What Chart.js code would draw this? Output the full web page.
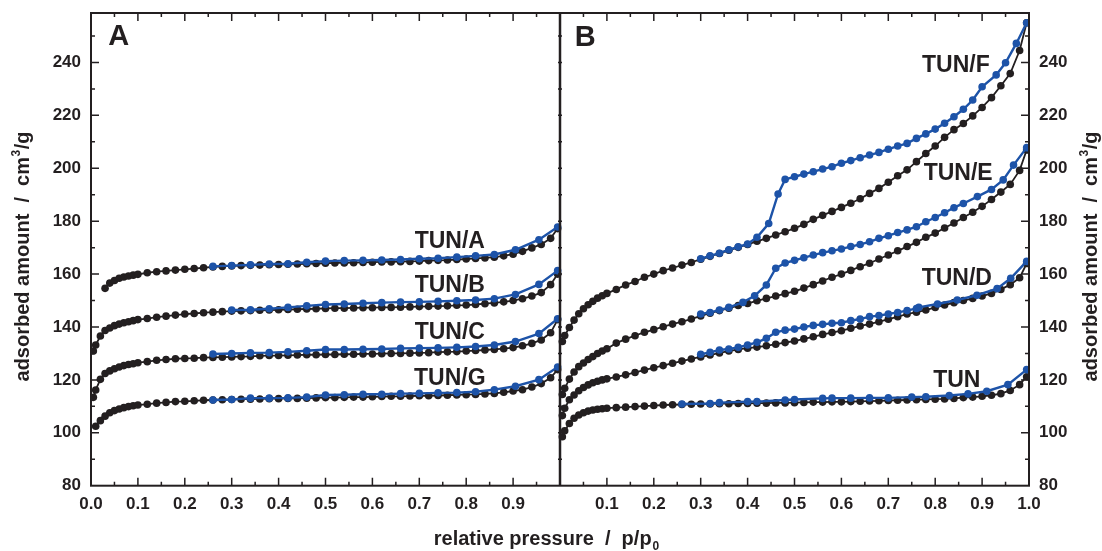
<!DOCTYPE html>
<html>
<head>
<meta charset="utf-8">
<script src="https://cdn.jsdelivr.net/npm/chart.js@4.4.1/dist/chart.umd.min.js"></script>
<style>
  body { margin: 0; background: #fff; }
  #wrap { width: 1102px; height: 551px; }
</style>
</head>
<body>
<div id="wrap"><canvas id="iso" width="1102" height="551"></canvas></div>
<script>
// relative pressure of the adsorption branch (shared by all black curves)
const pAds = [0.005, 0.01, 0.02, 0.03, 0.04, 0.05, 0.06, 0.07, 0.08, 0.09,
  0.10, 0.12, 0.14, 0.16, 0.18, 0.20, 0.22, 0.24, 0.26, 0.28,
  0.30, 0.32, 0.34, 0.36, 0.38, 0.40, 0.42, 0.44, 0.46, 0.48,
  0.50, 0.52, 0.54, 0.56, 0.58, 0.60, 0.62, 0.64, 0.66, 0.68,
  0.70, 0.72, 0.74, 0.76, 0.78, 0.80, 0.82, 0.84, 0.86, 0.88,
  0.90, 0.92, 0.94, 0.96, 0.98, 0.995];

// panel A - adsorption
const adsTunA = [null, null, null, 154.6, 156.6, 157.6, 158.4, 158.9, 159.3, 159.6,
  159.9, 160.5, 160.9, 161.2, 161.5, 161.8, 162.1, 162.4, 162.7, 162.9,
  163.1, 163.2, 163.3, 163.4, 163.5, 163.6, 163.7, 163.8, 163.9, 164.0,
  164.1, 164.2, 164.2, 164.3, 164.4, 164.5, 164.6, 164.6, 164.7, 164.8,
  164.9, 165.1, 165.2, 165.3, 165.5, 165.7, 165.9, 166.1, 166.4, 166.9,
  167.5, 168.6, 169.9, 171.2, 173.5, 177.2];
const adsTunB = [130.9, 133.2, 136.6, 138.7, 139.6, 140.5, 141.1, 141.6, 142.0, 142.4,
  142.8, 143.2, 143.7, 144.1, 144.5, 144.9, 145.1, 145.4, 145.6, 145.8,
  146.0, 146.1, 146.2, 146.3, 146.4, 146.5, 146.6, 146.7, 146.8, 146.9,
  147.0, 147.1, 147.1, 147.2, 147.3, 147.3, 147.4, 147.4, 147.5, 147.6,
  147.7, 147.8, 147.9, 148.0, 148.2, 148.3, 148.5, 148.8, 149.1, 149.5,
  150.0, 150.7, 151.7, 153.0, 156.0, 160.0];
const adsTunC = [113.4, 116.2, 120.2, 122.4, 123.4, 124.2, 124.9, 125.4, 125.8, 126.1,
  126.5, 126.9, 127.4, 127.7, 128.0, 128.1, 128.2, 128.4, 128.5, 128.6,
  128.7, 128.8, 128.9, 129.1, 129.2, 129.2, 129.3, 129.4, 129.5, 129.5,
  129.6, 129.6, 129.7, 129.7, 129.8, 129.8, 129.9, 130.0, 130.0, 130.1,
  130.2, 130.3, 130.5, 130.6, 130.7, 130.9, 131.1, 131.3, 131.5, 131.8,
  132.2, 132.9, 133.8, 135.1, 137.8, 142.8];
const adsTunG = [null, 102.5, 104.6, 106.3, 107.6, 108.4, 109.0, 109.5, 109.9, 110.2,
  110.5, 110.8, 111.2, 111.5, 111.8, 111.9, 112.1, 112.3, 112.4, 112.5,
  112.6, 112.7, 112.7, 112.8, 112.9, 112.9, 113.0, 113.0, 113.1, 113.2,
  113.3, 113.3, 113.4, 113.5, 113.5, 113.6, 113.7, 113.8, 113.8, 113.9,
  114.0, 114.0, 114.1, 114.2, 114.3, 114.4, 114.5, 114.7, 114.9, 115.3,
  115.8, 116.3, 117.3, 118.6, 120.8, 123.9];

// panel A - desorption
const pDesA = [0.26, 0.30, 0.34, 0.38, 0.42, 0.46, 0.50, 0.54, 0.58, 0.62,
  0.66, 0.70, 0.74, 0.78, 0.82, 0.86, 0.905, 0.955, 0.995];
const desTunA = [162.9, 163.2, 163.5, 163.8, 163.9, 164.5, 164.9, 165.1, 165.2, 165.3,
  165.5, 165.8, 166.0, 166.4, 166.9, 167.4, 169.2, 173.0, 177.8];
const desTunB = [null, 146.4, 146.5, 146.9, 147.4, 148.0, 148.5, 148.7, 149.0, 149.2,
  149.4, 149.5, 149.7, 149.9, 150.2, 150.7, 152.3, 156.1, 161.3];
const desTunC = [129.8, 130.0, 130.2, 130.3, 130.6, 131.0, 131.5, 131.5, 131.6, 131.7,
  131.9, 132.0, 132.1, 132.3, 132.6, 133.2, 134.5, 137.5, 143.1];
const desTunG = [112.4, 112.6, 113.1, 113.1, 113.2, 113.5, 114.3, 114.4, 114.6, 114.6,
  114.8, 114.9, 115.1, 115.2, 115.5, 116.3, 117.6, 120.1, 124.9];

// panel B - adsorption
const adsTun = [98.5, 100.8, 103.5, 105.5, 106.7, 107.6, 108.2, 108.6, 108.9, 109.1,
  109.3, 109.5, 109.7, 109.9, 110.1, 110.3, 110.5, 110.6, 110.7, 110.8,
  110.9, 110.9, 111.0, 111.0, 111.1, 111.1, 111.2, 111.2, 111.3, 111.3,
  111.4, 111.5, 111.6, 111.6, 111.7, 111.7, 111.8, 111.9, 112.0, 112.1,
  112.2, 112.3, 112.4, 112.5, 112.6, 112.7, 112.8, 113.0, 113.3, 113.5,
  113.8, 114.2, 114.8, 116.0, 118.2, 121.2];
const adsTunD = [106.5, 109.3, 112.5, 114.3, 115.9, 117.1, 118.1, 118.9, 119.5, 120.0,
  120.4, 121.1, 121.9, 122.8, 123.7, 124.6, 125.4, 126.3, 127.1, 127.9,
  128.7, 129.4, 130.2, 130.9, 131.5, 132.0, 132.4, 132.9, 133.5, 134.1,
  134.7, 135.5, 136.3, 137.2, 137.9, 138.6, 139.5, 140.4, 141.1, 142.0,
  142.9, 143.9, 144.9, 145.6, 146.4, 147.4, 148.3, 149.2, 150.0, 150.8,
  151.7, 152.7, 154.2, 156.0, 158.6, 164.0];
const adsTunE = [114.5, 116.8, 120.3, 123.0, 125.0, 126.4, 127.7, 128.8, 130.0, 130.9,
  131.8, 133.9, 135.4, 136.7, 138.0, 139.0, 140.1, 141.1, 142.0, 143.0,
  144.2, 145.2, 146.2, 147.1, 148.1, 148.9, 149.9, 150.8, 151.7, 152.6,
  153.5, 154.7, 156.0, 157.4, 158.8, 160.0, 161.4, 162.8, 164.1, 165.7,
  167.2, 168.8, 170.4, 172.0, 173.9, 175.5, 177.4, 179.3, 181.4, 183.4,
  185.6, 188.2, 191.0, 193.9, 199.2, 206.9];
const adsTunF = [134.5, 136.8, 139.8, 142.6, 145.0, 146.9, 148.4, 149.7, 150.9, 151.8,
  152.7, 154.2, 155.9, 157.2, 158.8, 160.0, 161.3, 162.3, 163.4, 164.4,
  165.6, 166.7, 167.8, 169.0, 170.1, 171.2, 172.4, 173.5, 174.8, 176.0,
  177.3, 178.8, 180.7, 182.2, 183.7, 185.2, 186.8, 188.5, 190.5, 192.4,
  194.7, 197.2, 199.4, 202.5, 205.6, 208.4, 211.7, 214.6, 216.9, 219.8,
  223.0, 226.7, 231.2, 235.8, 244.5, 255.0];

// panel B - desorption
const pDesTun = [0.26, 0.32, 0.34, 0.40, 0.42, 0.48, 0.50, 0.56, 0.58, 0.62,
  0.66, 0.70, 0.75, 0.78, 0.83, 0.87, 0.91, 0.955, 0.995];
const desTun = [110.9, 111.1, 111.4, 111.8, 111.8, 112.4, 112.6, 113.0, 113.1, 113.1,
  113.2, 113.2, 113.5, 113.6, 114.1, 114.7, 115.7, 118.2, 123.9];
const pDesD = [0.30, 0.32, 0.34, 0.36, 0.38, 0.40, 0.42, 0.44, 0.46, 0.48,
  0.50, 0.52, 0.54, 0.56, 0.58, 0.60, 0.62, 0.64, 0.66, 0.68,
  0.70, 0.72, 0.74, 0.76, 0.765, 0.805, 0.847, 0.889, 0.932, 0.961, 0.995];
const desTunD = [129.7, 130.4, 131.3, 131.7, 132.3, 133.2, 134.2, 135.7, 138.0, 138.8,
  139.2, 140.0, 140.6, 141.0, 141.4, 141.6, 142.4, 143.0, 143.9, 144.3,
  144.9, 145.5, 146.2, 147.0, 147.4, 148.7, 150.2, 152.0, 154.5, 158.4, 164.8];
const pDesE = [0.30, 0.32, 0.34, 0.36, 0.39, 0.415, 0.44, 0.46, 0.48, 0.50,
  0.52, 0.54, 0.56, 0.58, 0.60, 0.62, 0.64, 0.66, 0.68, 0.70,
  0.72, 0.74, 0.76, 0.78, 0.80, 0.82, 0.84, 0.86, 0.89, 0.92,
  0.945, 0.967, 0.995];
const desTunE = [144.9, 145.5, 146.4, 147.4, 149.3, 151.8, 155.9, 162.2, 164.2, 165.2,
  166.2, 167.2, 168.1, 168.8, 169.5, 170.4, 171.2, 172.2, 173.5, 174.5,
  175.7, 176.7, 177.9, 179.8, 181.4, 183.2, 185.1, 186.7, 189.3, 192.0,
  195.6, 201.2, 207.8];
const pDesF = [0.30, 0.32, 0.34, 0.36, 0.38, 0.40, 0.42, 0.445, 0.465, 0.48,
  0.50, 0.52, 0.54, 0.56, 0.58, 0.60, 0.62, 0.64, 0.66, 0.68,
  0.70, 0.72, 0.74, 0.76, 0.78, 0.80, 0.82, 0.84, 0.86, 0.88,
  0.90, 0.93, 0.95, 0.973, 0.995];
const desTunF = [165.8, 166.9, 167.9, 169.2, 170.3, 171.4, 173.9, 179.1, 190.3, 195.8,
  196.8, 197.8, 198.7, 199.7, 200.6, 201.9, 202.9, 204.0, 205.0, 206.0,
  207.2, 208.4, 209.4, 211.3, 213.0, 214.8, 217.0, 219.5, 222.3, 225.8,
  230.8, 235.3, 239.9, 247.2, 255.0];

// y ticks
const yTicks = [80, 100, 120, 140, 160, 180, 200, 220, 240];

// curve names: [text, panel, p, value]
const curveNames = [
  ['TUN/A', 'A', 0.765, 172.1], ['TUN/B', 'A', 0.765, 155.5],
  ['TUN/C', 'A', 0.765, 137.7], ['TUN/G', 'A', 0.765, 120.3],
  ['TUN/F', 'B', 0.844, 238.7], ['TUN/E', 'B', 0.849, 197.8],
  ['TUN/D', 'B', 0.846, 158.1], ['TUN', 'B', 0.846, 119.6]
];
const panelNames = [['A', 'A', 0.059, 249.6], ['B', 'B', 0.054, 249.3]];

const BLACK = '#231f20';
const BLUE = '#1d53a8';
const FONT = '"Liberation Sans", Arial, sans-serif';
const shift = { A: 0, B: 1 };

function points(px, vals, panel) {
  const out = [];
  px.forEach((p, i) => {
    if (vals[i] != null) out.push({ x: p + shift[panel], y: vals[i] });
  });
  return out;
}

function series(px, vals, panel, color) {
  const blue = color === BLUE;
  return {
    data: points(px, vals, panel),
    borderColor: color,
    backgroundColor: color,
    borderWidth: blue ? 2.4 : 1.8,
    pointRadius: 3.8,
    pointBorderWidth: 0,
    pointBackgroundColor: color,
    tension: 0,
    order: blue ? 0 : 1
  };
}

const datasets = [
  series(pAds, adsTunA, 'A', BLACK), series(pAds, adsTunB, 'A', BLACK),
  series(pAds, adsTunC, 'A', BLACK), series(pAds, adsTunG, 'A', BLACK),
  series(pDesA, desTunA, 'A', BLUE), series(pDesA, desTunB, 'A', BLUE),
  series(pDesA, desTunC, 'A', BLUE), series(pDesA, desTunG, 'A', BLUE),
  series(pAds, adsTun, 'B', BLACK), series(pAds, adsTunD, 'B', BLACK),
  series(pAds, adsTunE, 'B', BLACK), series(pAds, adsTunF, 'B', BLACK),
  series(pDesTun, desTun, 'B', BLUE), series(pDesD, desTunD, 'B', BLUE),
  series(pDesE, desTunE, 'B', BLUE), series(pDesF, desTunF, 'B', BLUE)
];

// frame, inward ticks, divider, labels and axis titles
const framePlugin = {
  id: 'frame',
  afterDraw(chart) {
    const ctx = chart.ctx;
    const a = chart.chartArea;
    const xs = chart.scales.x;
    const ys = chart.scales.y;
    ctx.save();
    ctx.strokeStyle = BLACK;
    ctx.lineWidth = 2;
    ctx.strokeRect(a.left, a.top, a.right - a.left, a.bottom - a.top);

    const mid = xs.getPixelForValue(1);
    ctx.lineWidth = 2.5;
    ctx.beginPath();
    ctx.moveTo(mid, a.top);
    ctx.lineTo(mid, a.bottom);
    ctx.stroke();

    ctx.lineWidth = 1.5;
    ctx.beginPath();
    for (let i = 1; i < 40; i++) {
      if (i === 20) continue;
      const x = xs.getPixelForValue(i * 0.05);
      const len = i % 2 === 0 ? 8 : 4;
      ctx.moveTo(x, a.bottom);
      ctx.lineTo(x, a.bottom - len);
      ctx.moveTo(x, a.top);
      ctx.lineTo(x, a.top + len);
    }
    for (let v = 90; v < 260; v += 10) {
      const y = ys.getPixelForValue(v);
      const len = v % 20 === 0 ? 8 : 4;
      ctx.moveTo(a.left, y);
      ctx.lineTo(a.left + len, y);
      ctx.moveTo(a.right, y);
      ctx.lineTo(a.right - len, y);
      ctx.moveTo(mid - 2, y);
      ctx.lineTo(mid + 2, y);
    }
    ctx.stroke();

    ctx.fillStyle = BLACK;
    ctx.textAlign = 'center';
    ctx.textBaseline = 'middle';
    ctx.font = 'bold 23px ' + FONT;
    curveNames.forEach(([t, panel, p, v]) => {
      ctx.fillText(t, xs.getPixelForValue(p + shift[panel]), ys.getPixelForValue(v));
    });
    ctx.font = 'bold 29px ' + FONT;
    panelNames.forEach(([t, panel, p, v]) => {
      ctx.fillText(t, xs.getPixelForValue(p + shift[panel]), ys.getPixelForValue(v));
    });

    // x title with subscript
    ctx.textAlign = 'left';
    ctx.textBaseline = 'alphabetic';
    const main = 'relative pressure  /  p/p';
    ctx.font = 'bold 20px ' + FONT;
    const w1 = ctx.measureText(main).width;
    ctx.font = 'bold 12px ' + FONT;
    const w2 = ctx.measureText('0').width;
    const x0 = 546 - (w1 + w2) / 2;
    ctx.font = 'bold 20px ' + FONT;
    ctx.fillText(main, x0, 545);
    ctx.font = 'bold 12px ' + FONT;
    ctx.fillText('0', x0 + w1 + 1, 550);

    // y titles with superscript
    const yTitle = (cx, cy) => {
      ctx.save();
      ctx.translate(cx, cy);
      ctx.rotate(-Math.PI / 2);
      ctx.font = 'bold 20px ' + FONT;
      const t1 = 'adsorbed amount  /  cm';
      const t3 = '/g';
      const a1 = ctx.measureText(t1).width;
      const a3 = ctx.measureText(t3).width;
      ctx.font = 'bold 12px ' + FONT;
      const a2 = ctx.measureText('3').width;
      const s = -(a1 + a2 + a3) / 2;
      ctx.font = 'bold 20px ' + FONT;
      ctx.fillText(t1, s, 7);
      ctx.fillText(t3, s + a1 + a2 + 1, 7);
      ctx.font = 'bold 12px ' + FONT;
      ctx.fillText('3', s + a1 + 0.5, -2);
      ctx.restore();
    };
    yTitle(22, 257);
    yTitle(1090, 257);
    ctx.restore();
  }
};

const yScale = (position, width) => ({
  type: 'linear',
  position: position,
  min: 80,
  max: 258.7,
  afterFit: s => { s.width = width; s.paddingTop = 0; s.paddingBottom = 0; },
  afterBuildTicks: s => { s.ticks = yTicks.map(v => ({ value: v })); },
  grid: { display: false, drawTicks: false },
  border: { display: false },
  ticks: {
    padding: 10,
    color: BLACK,
    font: { family: FONT, size: 17, weight: 'bold' }
  }
});

new Chart(document.getElementById('iso'), {
  type: 'line',
  data: { datasets: datasets },
  options: {
    responsive: false,
    animation: false,
    layout: { padding: { top: 13, left: 0, right: 0, bottom: 0 } },
    plugins: { legend: { display: false }, tooltip: { enabled: false } },
    scales: {
      x: {
        type: 'linear',
        min: 0,
        max: 2,
        afterFit: s => { s.height = 65.3; s.paddingLeft = 0; s.paddingRight = 0; },
        grid: { display: false, drawTicks: false },
        border: { display: false },
        ticks: {
          stepSize: 0.1,
          autoSkip: false,
          maxRotation: 0,
          padding: 8,
          color: BLACK,
          font: { family: FONT, size: 17, weight: 'bold' },
          callback: v => {
            if (Math.abs(v - 1) < 1e-6) return '';
            return (v < 1 ? v : v - 1).toFixed(1);
          }
        }
      },
      y: yScale('left', 91),
      y2: yScale('right', 73)
    }
  },
  plugins: [framePlugin]
});
</script>
</body>
</html>
